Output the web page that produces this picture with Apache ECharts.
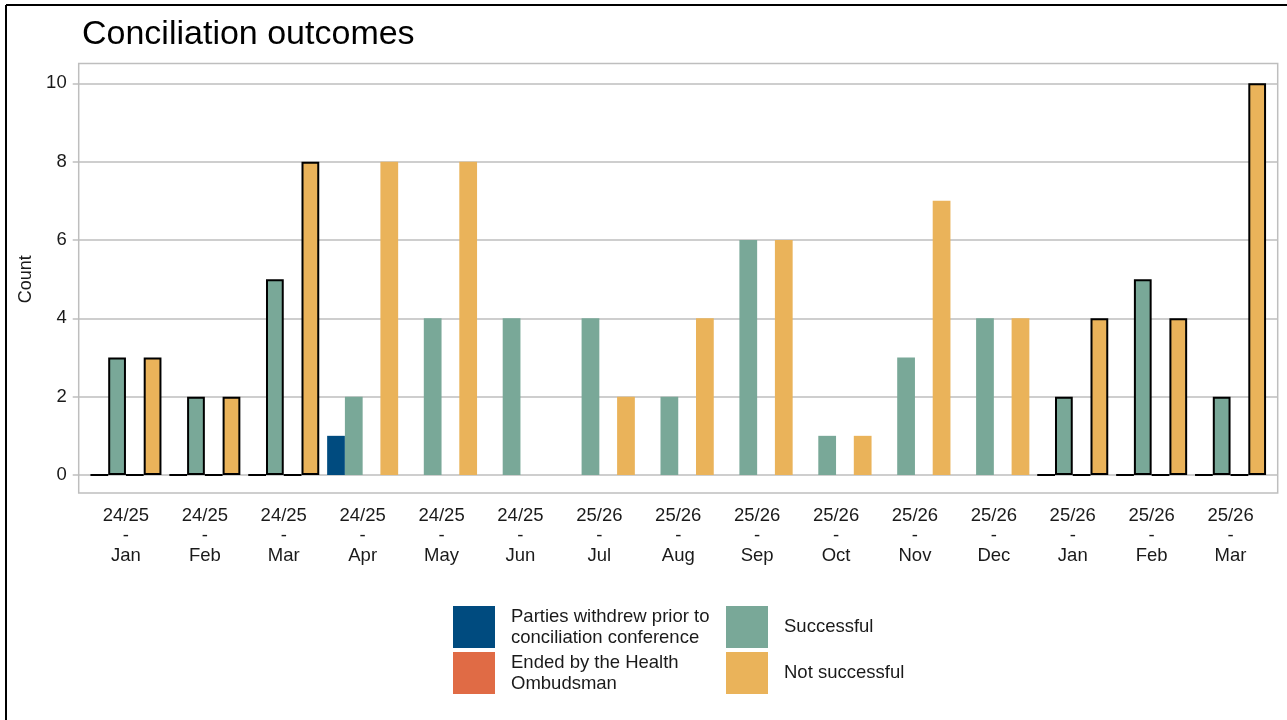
<!DOCTYPE html>
<html>
<head>
<meta charset="utf-8">
<script src="https://cdn.jsdelivr.net/npm/echarts@6/dist/echarts.min.js"></script>
<style>
  * {
    margin: 0;
    padding: 0;
  }
  #chart-container {
    width: 1287px;
    height: 720px;
    overflow: hidden;
  }
</style>
</head>
<body>
<div id="chart-container"></div>
<script>
  // financial year / month for each category
  var years = ['24/25', '24/25', '24/25', '24/25', '24/25', '24/25', '25/26', '25/26', '25/26', '25/26', '25/26', '25/26', '25/26', '25/26', '25/26']
  var months = ['Jan', 'Feb', 'Mar', 'Apr', 'May', 'Jun', 'Jul', 'Aug', 'Sep', 'Oct', 'Nov', 'Dec', 'Jan', 'Feb', 'Mar']

  var withdrew = [0, 0, 0, 1, 0, 0, 0, 0, 0, 0, 0, 0, 0, 0, 0]
  var ended = [0, 0, 0, 0, 0, 0, 0, 0, 0, 0, 0, 0, 0, 0, 0]
  var successful = [3, 2, 5, 2, 4, 4, 4, 2, 6, 1, 3, 4, 2, 5, 2]
  var notSuccessful = [3, 2, 8, 8, 8, 0, 2, 4, 6, 1, 7, 4, 4, 4, 10]

  // months drawn with a black outline
  var outlined = [0, 1, 2, 12, 13, 14]

  var seriesNames = {
    withdrew: 'Parties withdrew prior to conciliation conference',
    ended: 'Ended by the Health Ombudsman',
    successful: 'Successful',
    notSuccessful: 'Not successful',
  }
  var legendText = {}
  legendText[seriesNames.withdrew] = 'Parties withdrew prior to\nconciliation conference'
  legendText[seriesNames.ended] = 'Ended by the Health\nOmbudsman'
  legendText[seriesNames.successful] = 'Successful'
  legendText[seriesNames.notSuccessful] = 'Not successful'

  var categories = years.map(function (y, i) {
    return y + '\n-\n' + months[i]
  })

  function barData(values) {
    return values.map(function (v, i) {
      if (outlined.indexOf(i) >= 0) {
        return { value: v, itemStyle: { borderColor: '#000', borderWidth: 2 } }
      }
      return v
    })
  }

  function barSeries(name, values, color) {
    return {
      name: name,
      type: 'bar',
      xAxisIndex: 0,
      yAxisIndex: 0,
      barGap: '0%',
      barCategoryGap: '10%',
      itemStyle: { color: color },
      data: barData(values),
    }
  }

  var font = 'Liberation Sans, Arial, sans-serif'
  var gridGrey = '#BEBEBE'
  var legendTextStyle = { fontSize: 18.5, lineHeight: 21, color: '#1a1a1a', padding: [0, 0, 0, 11] }

  var chartDom = document.getElementById('chart-container')
  var myChart = echarts.init(chartDom, null, { renderer: 'canvas' })

  var option = {
    animation: false,
    textStyle: { fontFamily: font },
    title: {
      text: 'Conciliation outcomes',
      left: 77,
      top: 13,
      textStyle: { fontSize: 34, fontWeight: 'normal', color: '#000', fontFamily: font },
    },
    legend: [
      {
        orient: 'vertical',
        left: 453,
        top: 606,
        padding: 0,
        itemWidth: 42,
        itemHeight: 42,
        itemGap: 4,
        icon: 'rect',
        data: [seriesNames.withdrew, seriesNames.ended],
        formatter: function (name) {
          return legendText[name]
        },
        textStyle: legendTextStyle,
      },
      {
        orient: 'vertical',
        left: 726,
        top: 606,
        padding: 0,
        itemWidth: 42,
        itemHeight: 42,
        itemGap: 4,
        icon: 'rect',
        data: [seriesNames.successful, seriesNames.notSuccessful],
        textStyle: legendTextStyle,
      },
    ],
    grid: [
      // bars
      { left: 86.5, right: 17, top: 83.3, bottom: 245 },
      // full panel: gridlines and y labels
      { left: 78.7, right: 9.3, top: 83.3, bottom: 245 },
    ],
    xAxis: [
      {
        gridIndex: 0,
        type: 'category',
        data: categories,
        offset: 18,
        axisLine: { show: false },
        axisTick: { alignWithLabel: true, length: 5, lineStyle: { color: gridGrey, width: 1.5 } },
        axisLabel: { fontSize: 18.5, lineHeight: 20, color: '#1a1a1a', margin: 13, interval: 0 },
      },
      { gridIndex: 1, type: 'value', min: 0, max: 1, show: false },
    ],
    yAxis: [
      { gridIndex: 0, type: 'value', min: 0, max: 10, show: false },
      {
        gridIndex: 1,
        type: 'value',
        min: 0,
        max: 10,
        interval: 2,
        name: 'Count',
        nameLocation: 'middle',
        nameRotate: 90,
        nameGap: 42,
        nameTextStyle: { fontSize: 18, color: '#1a1a1a' },
        axisLine: { show: false },
        axisTick: { show: true, length: 6, lineStyle: { color: gridGrey, width: 1.5 } },
        axisLabel: { fontSize: 18.5, color: '#1a1a1a', margin: 12 },
        splitLine: { lineStyle: { color: gridGrey, width: 1.5 } },
      },
    ],
    graphic: [
      {
        type: 'rect',
        shape: { x: 78.7, y: 63.5, width: 1199, height: 429.5 },
        style: { fill: 'none', stroke: gridGrey, lineWidth: 1.5 },
        silent: true,
      },
      {
        type: 'line',
        shape: { x1: 6, y1: 5, x2: 6, y2: 720 },
        style: { stroke: '#000', lineWidth: 2 },
        silent: true,
      },
      {
        type: 'line',
        shape: { x1: 6, y1: 5, x2: 1287, y2: 5 },
        style: { stroke: '#000', lineWidth: 2 },
        silent: true,
      },
    ],
    series: [
      barSeries(seriesNames.withdrew, withdrew, '#004B7F'),
      barSeries(seriesNames.successful, successful, '#79A898'),
      barSeries(seriesNames.ended, ended, '#E06B45'),
      barSeries(seriesNames.notSuccessful, notSuccessful, '#EAB35A'),
    ],
  }

  myChart.setOption(option)
  window.addEventListener('resize', myChart.resize)
</script>
</body>
</html>
